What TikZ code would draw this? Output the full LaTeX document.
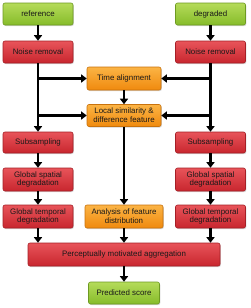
\documentclass[tikz,border=0pt]{standalone}
\usepackage{fontspec}
\setmainfont{Liberation Sans}
\usetikzlibrary{arrows.meta,shadows}
\definecolor{gTop}{HTML}{B5DB5A}
\definecolor{gBot}{HTML}{86BC2A}
\definecolor{gEdge}{HTML}{6E9A22}
\definecolor{rTop}{HTML}{E8545A}
\definecolor{rBot}{HTML}{C8262E}
\definecolor{rEdge}{HTML}{A51F26}
\definecolor{oTop}{HTML}{FBB445}
\definecolor{oBot}{HTML}{F08A0E}
\definecolor{oEdge}{HTML}{C9720C}
\tikzset{
  box/.style={rounded corners=2pt, minimum height=22pt, align=center,
    font=\fontsize{7.9}{8.8}\selectfont, text=black!90, line width=0.6pt,
    drop shadow={shadow xshift=0.8pt, shadow yshift=-1pt, opacity=0.35}},
  gbox/.style={box, draw=gEdge, top color=gTop, bottom color=gBot},
  rbox/.style={box, draw=rEdge, top color=rTop, bottom color=rBot},
  obox/.style={box, draw=oEdge, top color=oTop, bottom color=oBot},
  arr/.style={line width=2.5pt, -{Triangle[length=5.5pt,width=8pt]}},
  ln/.style={line width=2.5pt}
}
\begin{document}
\begin{tikzpicture}[x=1pt,y=-1pt]
\useasboundingbox (0,0) rectangle (250,308);
\node[gbox, minimum width=70pt] (ref) at (38,14) {reference};
\node[gbox, minimum width=70pt] (deg) at (210.5,14) {degraded};
\node[rbox, minimum width=70pt] (nrL) at (38,52) {Noise removal};
\node[rbox, minimum width=70pt] (nrR) at (210.5,52) {Noise removal};
\node[obox, minimum width=74pt, minimum height=23pt] (ta) at (124,78.5) {Time alignment};
\node[obox, minimum width=74pt] (ls) at (124,115.5) {Local similarity \&\\difference feature};
\node[rbox, minimum width=70pt, minimum height=21pt] (ssL) at (38,142.5) {Subsampling};
\node[rbox, minimum width=70pt, minimum height=21pt] (ssR) at (210.5,142.5) {Subsampling};
\node[rbox, minimum width=70pt, minimum height=23pt] (gsL) at (38,179.5) {Global spatial\\degradation};
\node[rbox, minimum width=70pt, minimum height=23pt] (gsR) at (210.5,179.5) {Global spatial\\degradation};
\node[rbox, minimum width=70pt, minimum height=23pt] (gtL) at (38,216.5) {Global temporal\\degradation};
\node[obox, minimum width=78pt, minimum height=23pt] (an) at (124,216.5) {Analysis of feature\\distribution};
\node[rbox, minimum width=70pt, minimum height=23pt] (gtR) at (210.5,216.5) {Global temporal\\degradation};
\node[rbox, minimum width=192pt, minimum height=23pt] (pm) at (124,254.5) {Perceptually motivated aggregation};
\node[gbox, minimum width=71pt, minimum height=22pt] (ps) at (124,293) {Predicted score};
\draw[arr] (ref) -- (nrL);
\draw[arr] (deg) -- (nrR);
\draw[arr] (nrL) -- (ssL);
\draw[arr] (nrR) -- (ssR);
\draw[arr] (nrL.south |- ta.west) -- (ta.west);
\draw[arr] (nrR.south |- ta.east) -- (ta.east);
\draw[arr] (nrL.south |- ls.west) -- (ls.west);
\draw[arr] (nrR.south |- ls.east) -- (ls.east);
\draw[arr] (ta) -- (ls);
\draw[arr] (ls) -- (an);
\draw[arr] (ssL) -- (gsL);
\draw[arr] (ssR) -- (gsR);
\draw[arr] (gsL) -- (gtL);
\draw[arr] (gsR) -- (gtR);
\draw[arr] (gtL.south) -- (gtL.south |- pm.north);
\draw[arr] (gtR.south) -- (gtR.south |- pm.north);
\draw[arr] (an) -- (pm);
\draw[arr] (pm) -- (ps);
\end{tikzpicture}
\end{document}
